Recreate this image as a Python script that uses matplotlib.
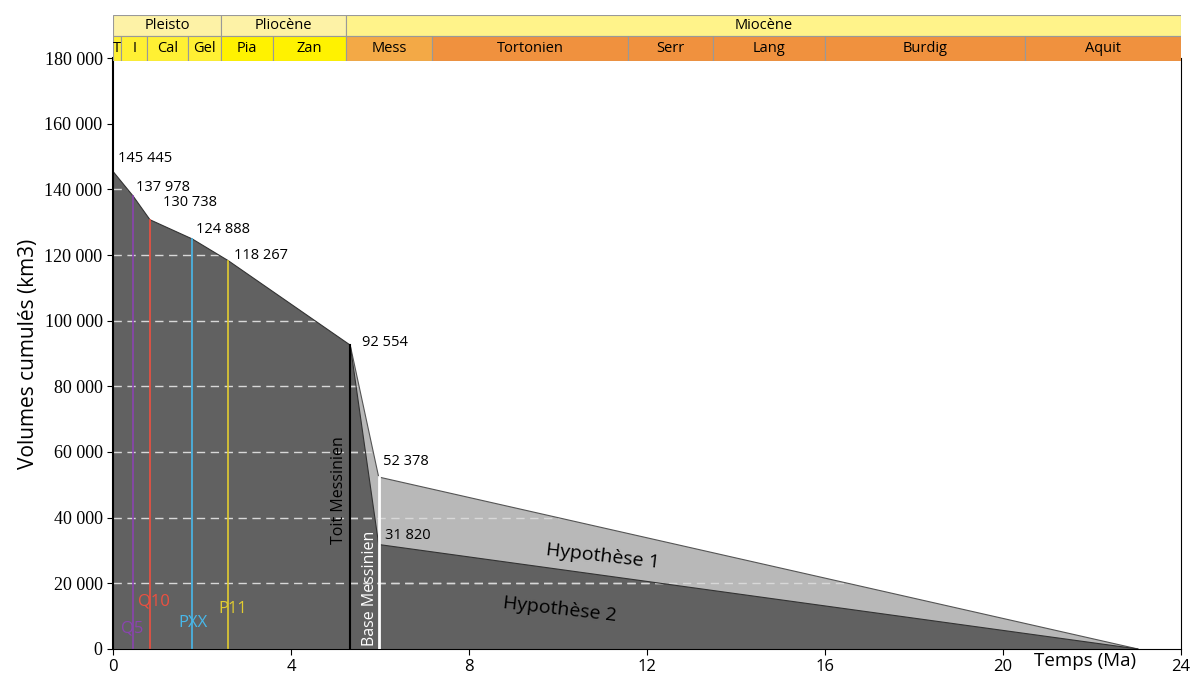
import matplotlib.pyplot as plt
from matplotlib.patches import Rectangle

plt.rcParams['font.family'] = ['Open Sans', 'DejaVu Sans']

# cumulative volumes (km3) vs time (Ma)
ages = [0.0, 0.45, 0.83, 1.78, 2.59, 5.33]
volumes = [145445, 137978, 130738, 124888, 118267, 92554]
base_mess = 5.97
hyp1_base = 52378
hyp2_base = 31820
end_age = 23.03

# seismic horizons
horizons = ['Q5', 'Q10', 'PXX', 'P11']
horizon_ages = [0.45, 0.83, 1.78, 2.59]
horizon_colors = ['#8a44b0', '#ee5040', '#48b8ea', '#e2cc30']

# time scale
epochs = ['Pleisto', 'Pliocène', 'Miocène']
epoch_bounds = [0.0, 2.43, 5.24, 24.0]
epoch_colors = ['#fdf2a6', '#fdf2a6', '#fff38a']
stages = ['T', 'I', 'Cal', 'Gel', 'Pia', 'Zan', 'Mess', 'Tortonien', 'Serr',
          'Lang', 'Burdig', 'Aquit']
stage_bounds = [0.0, 0.18, 0.77, 1.69, 2.43, 3.6, 5.24, 7.17, 11.57, 13.48,
                16.0, 20.49, 24.0]
stage_colors = ['#fff033'] * 4 + ['#fff200'] * 2 + ['#f3a946'] + ['#f0913e'] * 5

dark = '#616161'
light = '#b8b8b8'

fig = plt.figure(figsize=(11.91, 6.77), dpi=100)
ax = fig.add_axes([0.0949, 0.0414, 0.8967, 0.8729])

# Hypothese 1 (light) then Hypothese 2 (dark) on top
p1 = ax.fill([ages[-1], base_mess, end_age, end_age, ages[-1]],
             [volumes[-1], hyp1_base, 0, 0, 0], color=light, lw=0)[0]
ax.plot([ages[-1], base_mess, end_age], [volumes[-1], hyp1_base, 0],
        color='#555555', lw=0.8)
p2 = ax.fill(ages + [base_mess, end_age, 0],
             volumes + [hyp2_base, 0, 0], color=dark, lw=0)[0]
ax.plot(ages + [base_mess, end_age], volumes + [hyp2_base, 0],
        color='#333333', lw=0.8)

# dashed grid lines, only drawn inside the grey fills
for v in range(20000, 180000, 20000):
    for patch in (p1, p2):
        ln = ax.axhline(v, color='#d8d8d8', lw=1, ls=(0, (6, 4)), zorder=1.5)
        ln.set_clip_path(patch)

for name, a, c in zip(horizons, horizon_ages, horizon_colors):
    v = volumes[ages.index(a)]
    ax.plot([a, a], [0, v], color=c, lw=1.2, zorder=2)

ax.plot([ages[-1], ages[-1]], [0, volumes[-1]], color='black', lw=1.5, zorder=3)
ax.plot([base_mess, base_mess], [0, hyp1_base], color='white', lw=2, zorder=3)

# value labels
lab_x = [0.11, 0.52, 1.12, 1.87, 2.72, 5.6]
lab_dy = [4000, 2660, 5330, 2960, 1670, 900]
for x, dy, v in zip(lab_x, lab_dy, volumes):
    ax.text(x, v + dy, f'{v:,}'.replace(',', ' '), fontsize=10.5, va='center')
ax.text(6.07, hyp1_base + 4850, f'{hyp1_base:,}'.replace(',', ' '),
        fontsize=10.5, va='center')
ax.text(6.11, hyp2_base + 2880, f'{hyp2_base:,}'.replace(',', ' '),
        fontsize=10.5, va='center')

ax.text(0.18, 6100, 'Q5', color=horizon_colors[0], fontsize=12, va='center')
ax.text(0.56, 14600, 'Q10', color=horizon_colors[1], fontsize=12, va='center')
ax.text(1.46, 7900, 'PXX', color=horizon_colors[2], fontsize=12, va='center')
ax.text(2.36, 12200, 'P11', color=horizon_colors[3], fontsize=12, va='center')

ax.text(5.07, 48400, 'Toit Messinien', rotation=90, fontsize=11.5,
        ha='center', va='center')
ax.text(5.77, 18600, 'Base Messinien', rotation=90, fontsize=11.5,
        ha='center', va='center', color='white')
ax.text(11.0, 28300, 'Hypothèse 1', rotation=-6.5, fontsize=14,
        ha='center', va='center')
ax.text(10.05, 11900, 'Hypothèse 2', rotation=-6.5, fontsize=14,
        ha='center', va='center')
ax.text(21.84, -1000, 'Temps (Ma)', fontsize=13.5, ha='center', va='top')

ax.set_xlim(0, 24)
ax.set_ylim(0, 180000)
ax.set_xticks(range(0, 25, 4))
ax.set_xticklabels(['0', '4', '8', '12', '16', '20', '24'])
ax.set_yticks(range(0, 180001, 20000))
ax.set_yticklabels([f'{v:,}'.replace(',', ' ') for v in range(0, 180001, 20000)],
                   family='Liberation Serif')
ax.tick_params(axis='y', labelsize=13, length=4)
ax.tick_params(axis='x', labelsize=12, length=4)
ax.spines['top'].set_visible(False)
ax.spines['left'].set_linewidth(1.5)
ax.set_ylabel('Volumes cumulés (km3)', fontsize=15)

# geological time scale bar
tax = fig.add_axes([0.0949, 0.9099, 0.8967, 0.0679])
tax.set_xlim(0, 24)
tax.set_ylim(0, 1)
tax.axis('off')
for i, name in enumerate(epochs):
    x0, x1 = epoch_bounds[i], epoch_bounds[i + 1]
    tax.add_patch(Rectangle((x0, 0.54), x1 - x0, 0.46, fc=epoch_colors[i],
                            ec='#999999', lw=0.8))
    tax.text((x0 + x1) / 2, 0.77, name, ha='center', va='center', fontsize=10.5)
for i, name in enumerate(stages):
    x0, x1 = stage_bounds[i], stage_bounds[i + 1]
    tax.add_patch(Rectangle((x0, 0), x1 - x0, 0.54, fc=stage_colors[i],
                            ec='#999999', lw=0.8))
    tax.text((x0 + x1) / 2, 0.27, name, ha='center', va='center', fontsize=10.5)

fig.savefig('out.png', dpi=100)
